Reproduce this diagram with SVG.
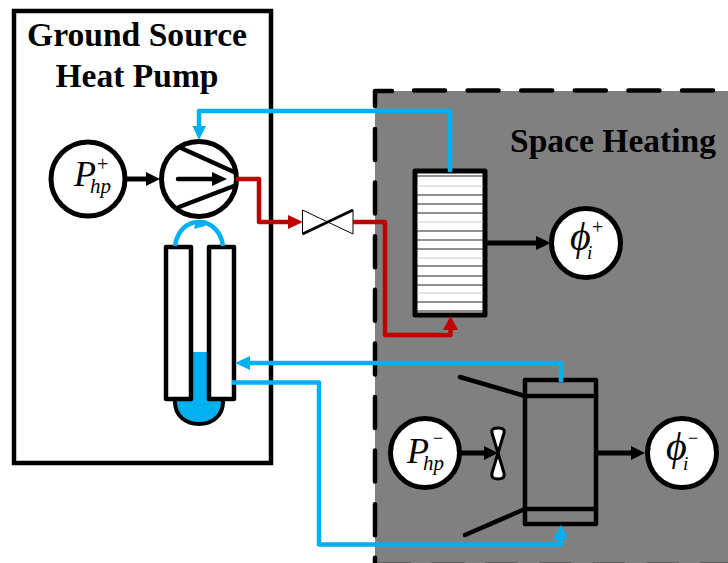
<svg xmlns="http://www.w3.org/2000/svg" width="728" height="563" viewBox="0 0 728 563">
<defs>
<style>
.t{font-family:"Liberation Serif",serif;fill:#000}
.b{font-weight:bold;font-size:33px}
.i{font-style:italic}
.c{fill:#fff;stroke:#000;stroke-width:5}
.k{fill:none;stroke:#000;stroke-width:4.500;stroke-linecap:round;stroke-linejoin:round}
.s{fill:none;stroke:#000;stroke-width:5}
.blue{fill:none;stroke:#00b0f0;stroke-width:4.500;stroke-linejoin:round}
.red{fill:none;stroke:#c00000;stroke-width:4.500;stroke-linejoin:round}
.l{stroke:#222;stroke-width:1.200}
.g{stroke:#c8c8c8;stroke-width:1}
.d{fill:none;stroke:#000;stroke-width:4.500;stroke-linecap:round;stroke-linejoin:round}
</style>
</defs>
<rect width="728" height="563" fill="#fff"/>
<g id="space-heating">
<rect x="375" y="91" width="353" height="472" fill="#808080"/>
<path class="d" d="M375 106V91H392"/>
<path class="d" d="M414 90.500H728" stroke-dasharray="31 22.600"/>
<path class="d" d="M375 129V563" stroke-dasharray="31 22.600"/>
<path class="d" d="M379 565H728" stroke-dasharray="31 22.600"/>
<text class="t b" x="510" y="152" textLength="206" lengthAdjust="spacingAndGlyphs">Space Heating</text>
</g>
<g id="ground-source-heat-pump">
<rect x="14" y="11" width="257" height="452" fill="#fff" stroke="#000" stroke-width="4.500"/>
<text class="t b" x="137" y="46" text-anchor="middle" textLength="220" lengthAdjust="spacingAndGlyphs">Ground Source</text>
<text class="t b" x="137" y="87" text-anchor="middle" textLength="163" lengthAdjust="spacingAndGlyphs">Heat Pump</text>
</g>
<g id="borehole">
<path d="M175 398V402C175 416 186 424 199 424C212 424 223 416 223 402V398Z" fill="#00b0f0" stroke="#000" stroke-width="4"/>
<rect x="192" y="352" width="16" height="50" fill="#00b0f0"/>
<rect x="166" y="247" width="25" height="152" fill="#fff" stroke="#000" stroke-width="4.500" stroke-linejoin="round"/>
<rect x="209" y="247" width="25" height="152" fill="#fff" stroke="#000" stroke-width="4.500" stroke-linejoin="round"/>
<path d="M175 246C177 231 187 222 199 222C211 222 221 231 223 246" fill="none" stroke="#00b0f0" stroke-width="4.500"/>
<path d="M194 229L196 221L206 220L205 226Z" fill="#00b0f0"/>
</g>
<g id="compressor">
<circle class="c" cx="199" cy="179" r="37.500"/>
<path class="k" d="M181 148L234 172M179 207L234 186"/>
<path d="M178 179H216" class="k"/>
<path d="M212 172L227 179L212 186Z" fill="#000"/>
</g>
<g id="p-hp-plus">
<circle class="c" cx="88" cy="179" r="37"/>
<text class="t i" x="74" y="186" font-size="36">P</text>
<text class="t i" x="90" y="193" font-size="21">hp</text>
<text class="t" x="97" y="170.500" font-size="20">+</text>
</g>
<g id="expansion-valve">
<path d="M302.500 210L353 234V210L302.500 234Z" fill="#fff" stroke="#000" stroke-width="1"/>
<path d="M302.500 234L353 210" stroke="#000" stroke-width="3" fill="none"/>
</g>
<g id="condenser">
<rect x="415" y="171" width="70" height="144" fill="#fff" stroke="#000" stroke-width="5" stroke-linejoin="round"/>
<path class="g" d="M417 186H483M417 222H483M417 258H483M417 293H483"/>
<path class="l" d="M417 176H483M417 195H483M417 204H483M417 213H483M417 231H483M417 240H483M417 249H483M417 266H483M417 276H483M417 285H483M417 302H483M417 311H483"/>
</g>
<g id="phi-plus">
<circle class="c" cx="586" cy="243" r="34.500"/>
<text class="t i" x="570" y="250" font-size="40">ϕ</text>
<text class="t i" x="587" y="259" font-size="19">i</text>
<text class="t" x="592" y="234" font-size="20">+</text>
</g>
<g id="evaporator">
<rect x="525" y="380" width="71" height="144" fill="none" stroke="#000" stroke-width="4.500" stroke-linejoin="round"/>
<path class="k" d="M525 396H596M525 509H596M525 396L460 377M525 509L465 535"/>
</g>
<g id="fan">
<path d="M498 453L492 433C491 429 494 428 498 428C502 428 505 429 504 433ZM498 453L492 473C491 478 494 479 498 479C502 479 505 478 504 473Z" fill="#fff" stroke="#000" stroke-width="3" stroke-linejoin="round"/>
</g>
<g id="p-hp-minus">
<circle class="c" cx="425" cy="453" r="34.500"/>
<text class="t i" x="407" y="463" font-size="36">P</text>
<text class="t i" x="423" y="470" font-size="21">hp</text>
<text class="t" x="433" y="444" font-size="18">−</text>
</g>
<g id="phi-minus">
<circle class="c" cx="682" cy="453" r="34.500"/>
<text class="t i" x="666" y="460" font-size="40">ϕ</text>
<text class="t i" x="683" y="470" font-size="19">i</text>
<text class="t" x="688" y="444" font-size="18">−</text>
</g>
<g id="connectors">
<path class="blue" d="M450 172V111H199V128"/>
<path d="M192.500 126H206L199 140Z" fill="#00b0f0"/>
<path class="red" d="M236 179H259V222H290"/>
<path d="M288 215L303 222L288 229Z" fill="#c00000"/>
<path class="red" d="M353 222H385V335H450.500V325"/>
<path d="M443 330L450.500 316L458 330Z" fill="#c00000"/>
<path class="blue" d="M561 382V363H245"/>
<path d="M235 363L250 356V370Z" fill="#00b0f0"/>
<path class="blue" d="M232 382.500H319V544.500H561V535"/>
<path d="M553 539L561 525L568 539Z" fill="#00b0f0"/>
<path class="s" d="M124 179H146"/>
<path d="M146 172L160 179L146 186Z" fill="#000"/>
<path class="s" d="M487 243H537"/>
<path d="M536 236L551 243L536 250Z" fill="#000"/>
<path class="s" d="M461 453H486"/>
<path d="M484 446L498 453L484 460Z" fill="#000"/>
<path class="s" d="M598 453H632"/>
<path d="M631 446L645 453L631 460Z" fill="#000"/>
</g>
</svg>
